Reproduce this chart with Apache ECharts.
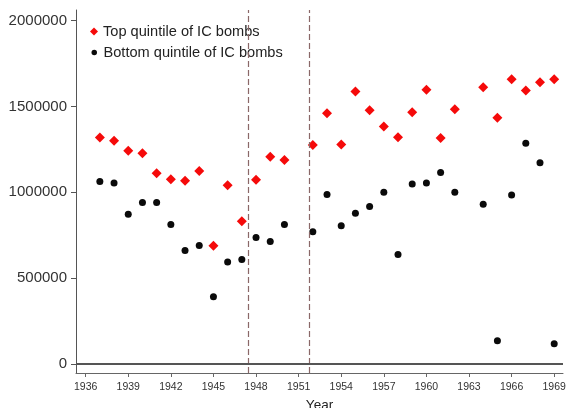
<!DOCTYPE html>
<html>
<head>
<meta charset="utf-8">
<script src="https://cdn.jsdelivr.net/npm/echarts@6/dist/echarts.min.js"></script>
<style>
  html, body { margin: 0; padding: 0; background: #fff; }
  #chart { width: 568px; height: 408px; }
</style>
</head>
<body>
<div id="chart"></div>
<script>
// Election years in the sample (no observations in 1951 and 1963)
const years = [1937, 1938, 1939, 1940, 1941, 1942, 1943, 1944, 1945, 1946, 1947, 1948, 1949, 1950,
               1952, 1953, 1954, 1955, 1956, 1957, 1958, 1959, 1960, 1961, 1962,
               1964, 1965, 1966, 1967, 1968, 1969];

// Top quintile of IC bombs
const topQuintile = [1319000, 1300000, 1242000, 1228000, 1112000, 1077000, 1067000, 1125000, 689000, 1042000, 832000, 1073000, 1208000, 1189000,
                     1276000, 1461000, 1278000, 1587000, 1478000, 1383000, 1321000, 1467000, 1597000, 1317000, 1484000,
                     1612000, 1435000, 1659000, 1593000, 1641000, 1659000];

// Bottom quintile of IC bombs
const bottomQuintile = [1063000, 1054000, 873000, 941000, 941000, 813000, 661000, 690000, 392000, 595000, 609000, 737000, 714000, 813000,
                        770000, 987000, 805000, 879000, 917000, 1001000, 638000, 1049000, 1054000, 1115000, 1001000,
                        931000, 136000, 984000, 1286000, 1173000, 118000];

const xTicks = [1936, 1939, 1942, 1945, 1948, 1951, 1954, 1957, 1960, 1963, 1966, 1969];
const yTicks = [0, 500000, 1000000, 1500000, 2000000];
const breakYears = [1947.45, 1951.75];

const seriesNames = ['Top quintile of IC bombs', 'Bottom quintile of IC bombs'];

const font = 'Liberation Sans, Arial, Helvetica, sans-serif';
const legendText = { fontFamily: font, fontSize: 14.6, color: '#222' };

const pairs = vals => years.map((y, i) => [y, vals[i]]);

const chart = echarts.init(document.getElementById('chart'), null, { renderer: 'canvas' });

chart.setOption({
  animation: false,
  backgroundColor: '#ffffff',
  grid: { left: 76, right: 5, top: 10, bottom: 35, containLabel: false, outerBoundsMode: 'none' },
  legend: [
    {
      left: 85, top: 19, itemWidth: 8, itemHeight: 8, itemGap: 0,
      textStyle: legendText,
      data: [{ name: seriesNames[0], icon: 'diamond' }]
    },
    {
      left: 86.5, top: 40, itemWidth: 5.5, itemHeight: 5.5, itemGap: 0,
      textStyle: Object.assign({}, legendText, { padding: [0, 0, 0, 1.5] }),
      data: [{ name: seriesNames[1], icon: 'circle' }]
    }
  ],
  xAxis: {
    type: 'value',
    min: 1935.32,
    max: 1969.62,
    name: 'Year',
    nameLocation: 'middle',
    nameGap: 25,
    nameTextStyle: { fontFamily: font, fontSize: 13.5, color: '#222' },
    splitLine: { show: false },
    axisLine: { show: true, onZero: false, lineStyle: { color: '#666', width: 1 } },
    axisTick: { show: true, customValues: xTicks, length: 4, lineStyle: { color: '#666' } },
    axisLabel: { customValues: xTicks, fontFamily: font, fontSize: 10.5, color: '#333', margin: 9,
                 formatter: v => String(v) }
  },
  yAxis: {
    type: 'value',
    min: -52000,
    max: 2062000,
    splitLine: { show: false },
    axisLine: { show: true, onZero: false, lineStyle: { color: '#555', width: 1 } },
    axisTick: { show: true, customValues: yTicks, length: 5, lineStyle: { color: '#555' } },
    axisLabel: { customValues: yTicks, fontFamily: font, fontSize: 15, color: '#333', margin: 9,
                 formatter: v => String(v) }
  },
  series: [
    {
      name: seriesNames[0],
      type: 'scatter',
      symbol: 'diamond',
      symbolSize: 10,
      itemStyle: { color: '#f50a0a', opacity: 1 },
      data: pairs(topQuintile),
      z: 3,
      markLine: {
        silent: true,
        symbol: 'none',
        label: { show: false },
        lineStyle: { color: '#8a6868', type: [6, 3], width: 1.2, opacity: 1 },
        data: breakYears.map(x => ({ xAxis: x }))
      }
    },
    {
      name: seriesNames[1],
      type: 'scatter',
      symbol: 'circle',
      symbolSize: 7,
      itemStyle: { color: '#0a0a0a', opacity: 1 },
      data: pairs(bottomQuintile),
      z: 3,
      markLine: {
        silent: true,
        symbol: 'none',
        label: { show: false },
        lineStyle: { color: '#555', type: 'solid', width: 2, opacity: 1 },
        data: [{ yAxis: 0 }]
      }
    }
  ]
});
</script>
</body>
</html>
